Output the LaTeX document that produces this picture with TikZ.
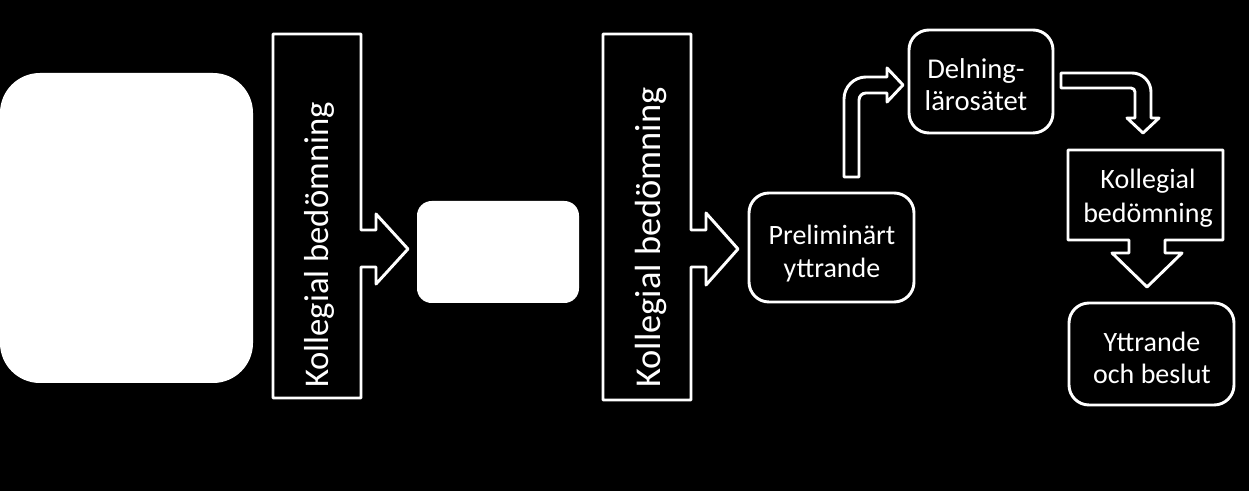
\documentclass[tikz,border=0pt]{standalone}
\usepackage{fontspec}
\setmainfont{Carlito}
\begin{document}
\begin{tikzpicture}[x=0.75pt,y=-0.75pt,
  outline/.style={draw=white,line width=2.2pt,line join=round,fill=black},
  whitebox/.style={fill=white,draw=none,inner sep=0pt},
  roundbox/.style={outline,rounded corners=15pt,inner sep=0pt},
  lbl/.style={text=white,align=center,inner sep=0pt},
  vlbl/.style={text=white,inner sep=0pt,rotate=90,anchor=base}
]
\fill[black] (0,0) rectangle (1249,491);
\useasboundingbox (0,0) rectangle (1249,491);

% white boxes
\node[whitebox,rounded corners=30pt,minimum width={253*0.75pt},minimum height={310*0.75pt}] (src) at (126.5,228) {};
\node[whitebox,rounded corners=11pt,minimum width={162*0.75pt},minimum height={102*0.75pt}] (mid) at (498,252) {};

% outlined rounded boxes
\node[roundbox,minimum width={165*0.75pt},minimum height={109*0.75pt}] (prelim) at (831.5,247.5) {};
\node[roundbox,minimum width={144*0.75pt},minimum height={103*0.75pt}] (deln) at (981,81.5) {};
\node[roundbox,minimum width={165*0.75pt},minimum height={102*0.75pt}] (ytt) at (1151.5,354) {};

% block arrow 1
\draw[outline] (273,34) -- (361,34) -- (361,230) -- (376,230) -- (376,214) -- (408,249)
  -- (376,284) -- (376,267) -- (361,267) -- (361,398) -- (273,398) -- cycle;
% block arrow 2
\draw[outline] (603,34) -- (691,34) -- (691,230) -- (706,230) -- (706,213) -- (738,249)
  -- (706,285) -- (706,267) -- (691,267) -- (691,400) -- (603,400) -- cycle;

% bent arrow up-right
\draw[outline] (844,177) -- (844,99) .. controls (844,86.85) and (853.85,77) .. (866,77)
  -- (887,77) -- (887,68) -- (903,85) -- (887,102) -- (887,93) -- (866,93)
  .. controls (862.13,93) and (859,96.13) .. (859,100) -- (859,177) -- cycle;

% bent arrow right-down
\draw[outline] (1061,73) -- (1132,73) .. controls (1142.5,73) and (1151,81.5) .. (1151,92)
  -- (1151,118) -- (1159,118) -- (1143,133) -- (1127,118) -- (1135,118) -- (1135,92)
  .. controls (1135,89.8) and (1133.2,88) .. (1131,88) -- (1061,88) -- cycle;

% down block arrow
\draw[outline] (1068,150) -- (1223,150) -- (1223,240) -- (1165,240) -- (1165,253) -- (1182,253)
  -- (1147,287) -- (1112,253) -- (1129,253) -- (1129,240) -- (1068,240) -- cycle;

% texts
\node[vlbl,font=\fontsize{26}{30}\selectfont] (kb1) at (328,245) {Kollegial bedömning};
\node[vlbl,font=\fontsize{27.3}{30}\selectfont] (kb2) at (660,237.5) {Kollegial bedömning};
\node[lbl,font=\fontsize{21}{24.75}\selectfont] (prelimtxt) at (832,254) {Preliminärt\\yttrande};
\node[lbl,font=\fontsize{21.5}{24}\selectfont] (delntxt) at (976,85) {Delning-\\lärosätet};
\node[lbl,font=\fontsize{21}{25.5}\selectfont] (kb3) at (1148,198) {Kollegial\\bedömning};
\node[lbl,font=\fontsize{21}{24}\selectfont] (ytttxt) at (1152,358) {Yttrande\\och beslut};
\end{tikzpicture}
\end{document}
